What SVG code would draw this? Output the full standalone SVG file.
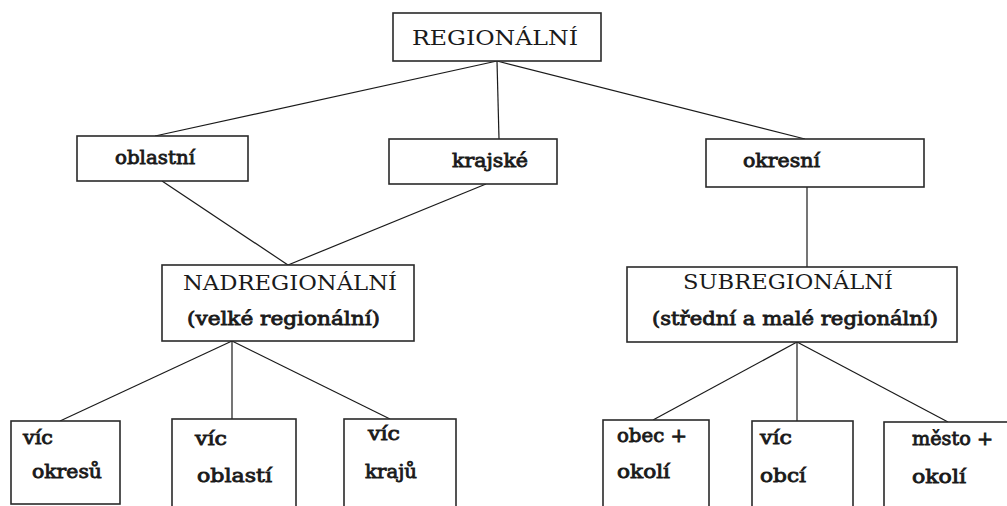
<svg xmlns="http://www.w3.org/2000/svg" width="1007" height="506" viewBox="0 0 1007 506">
<style>
.box{fill:#fff;stroke:#2a2a2a;stroke-width:1.6}
.ln{stroke:#1a1a1a;stroke-width:1.2;fill:none}
.t{fill:#1a1a1a}
.cap{font-family:"DejaVu Serif","Liberation Serif",serif;font-size:21px}
.lab{font-family:"DejaVu Serif","Liberation Serif",serif;font-size:18px;font-weight:normal;stroke:#1a1a1a;stroke-width:0.8}
</style>
<rect width="1007" height="506" fill="#fff"/>
<g id="connectors">
<line class="ln" x1="497" y1="61" x2="155" y2="136"/>
<line class="ln" x1="497" y1="61" x2="499" y2="139"/>
<line class="ln" x1="497" y1="61" x2="805" y2="139"/>
<line class="ln" x1="162" y1="181" x2="288" y2="265"/>
<line class="ln" x1="486" y1="184" x2="288" y2="265"/>
<line class="ln" x1="807" y1="187" x2="807" y2="267"/>
<line class="ln" x1="232" y1="341" x2="60" y2="421"/>
<line class="ln" x1="232" y1="341" x2="232" y2="419"/>
<line class="ln" x1="232" y1="341" x2="390" y2="419"/>
<line class="ln" x1="797" y1="342" x2="653" y2="420"/>
<line class="ln" x1="797" y1="342" x2="797" y2="421"/>
<line class="ln" x1="797" y1="342" x2="948" y2="422"/>
</g>
<g id="regionalni">
<rect class="box" x="393" y="13" width="208" height="48"/>
<text class="t cap" x="412" y="45" textLength="166" lengthAdjust="spacingAndGlyphs">REGIONÁLNÍ</text>
</g>
<g id="oblastni">
<rect class="box" x="77" y="136" width="171" height="45"/>
<text class="t lab" x="115" y="164" textLength="80" lengthAdjust="spacingAndGlyphs">oblastní</text>
</g>
<g id="krajske">
<rect class="box" x="389" y="139" width="168" height="45"/>
<text class="t lab" x="452" y="167" textLength="76" lengthAdjust="spacingAndGlyphs">krajské</text>
</g>
<g id="okresni">
<rect class="box" x="706" y="139" width="218" height="48"/>
<text class="t lab" x="743" y="167" textLength="77" lengthAdjust="spacingAndGlyphs">okresní</text>
</g>
<g id="nadregionalni">
<rect class="box" x="162" y="265" width="252" height="76"/>
<text class="t cap" x="183" y="290" font-size="22" textLength="214" lengthAdjust="spacingAndGlyphs">NADREGIONÁLNÍ</text>
<text class="t lab" x="187" y="325" textLength="193" lengthAdjust="spacingAndGlyphs">(velké regionální)</text>
</g>
<g id="subregionalni">
<rect class="box" x="627" y="267" width="330" height="75"/>
<text class="t cap" x="683" y="289" textLength="210" lengthAdjust="spacingAndGlyphs">SUBREGIONÁLNÍ</text>
<text class="t lab" x="652" y="325" textLength="286" lengthAdjust="spacingAndGlyphs">(střední a malé regionální)</text>
</g>
<g id="vic-okresu">
<rect class="box" x="11" y="421" width="109" height="83"/>
<text class="t lab" x="23" y="444" textLength="30" lengthAdjust="spacingAndGlyphs">víc</text>
<text class="t lab" x="32" y="478" textLength="70" lengthAdjust="spacingAndGlyphs">okresů</text>
</g>
<g id="vic-oblasti">
<rect class="box" x="172" y="419" width="124" height="95"/>
<text class="t lab" x="195" y="445" textLength="32" lengthAdjust="spacingAndGlyphs">víc</text>
<text class="t lab" x="197" y="482" textLength="75" lengthAdjust="spacingAndGlyphs">oblastí</text>
</g>
<g id="vic-kraju">
<rect class="box" x="344" y="419" width="112" height="95"/>
<text class="t lab" x="368" y="440" textLength="32" lengthAdjust="spacingAndGlyphs">víc</text>
<text class="t lab" x="365" y="478" textLength="52" lengthAdjust="spacingAndGlyphs">krajů</text>
</g>
<g id="obec-okoli">
<rect class="box" x="603" y="420" width="106" height="95"/>
<text class="t lab" x="617" y="442" textLength="70" lengthAdjust="spacingAndGlyphs">obec +</text>
<text class="t lab" x="617" y="478" textLength="53" lengthAdjust="spacingAndGlyphs">okolí</text>
</g>
<g id="vic-obci">
<rect class="box" x="752" y="421" width="101" height="95"/>
<text class="t lab" x="760" y="444" textLength="32" lengthAdjust="spacingAndGlyphs">víc</text>
<text class="t lab" x="760" y="482" textLength="46" lengthAdjust="spacingAndGlyphs">obcí</text>
</g>
<g id="mesto-okoli">
<rect class="box" x="884" y="422" width="130" height="95"/>
<text class="t lab" x="912" y="445" textLength="81" lengthAdjust="spacingAndGlyphs">město +</text>
<text class="t lab" x="912" y="483" textLength="54" lengthAdjust="spacingAndGlyphs">okolí</text>
</g>
</svg>
